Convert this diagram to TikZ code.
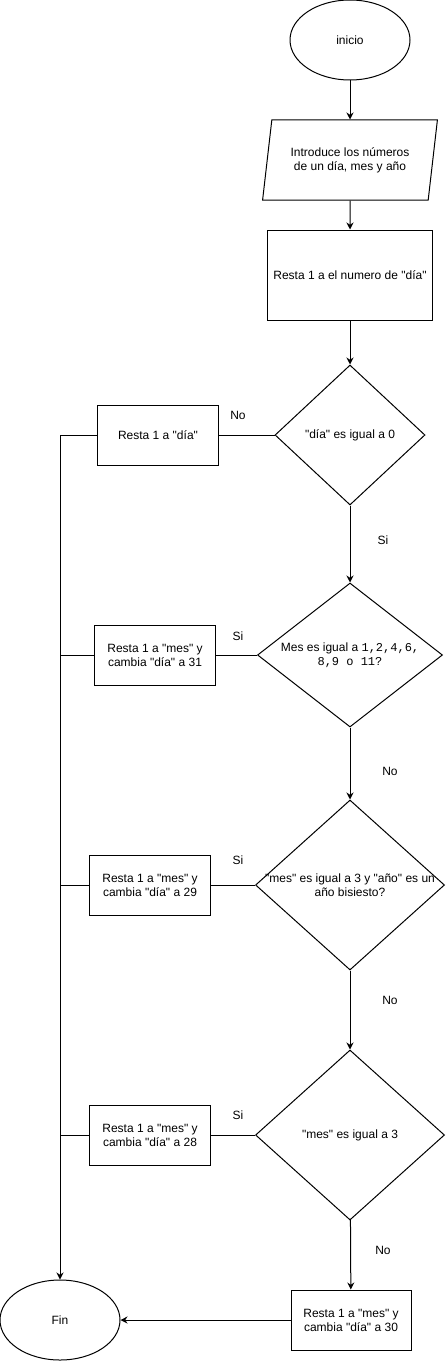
\documentclass[tikz,border=0pt]{standalone}
\usepackage{fontspec}
\setmainfont{Liberation Sans}[Ligatures=TeXOff]
\newfontfamily\monofont{Liberation Mono}
\usetikzlibrary{shapes.geometric,arrows.meta}
\tikzset{
terminal/.style={draw,ellipse,minimum width=120pt,minimum height=80pt},
entrada/.style={draw,trapezium,trapezium left angle=77,trapezium right angle=103,
  trapezium stretches=true,minimum width=175pt,minimum height=80pt,align=center},
proceso/.style={draw,rectangle,align=center,inner sep=0pt},
decision/.style={draw,diamond,inner sep=0pt},
flecha/.style={-{Stealth[length=7pt,width=7pt]}},
}
\begin{document}
\begin{tikzpicture}[x=1pt,y=-1pt,line width=1pt,font=\fontsize{12}{14}\selectfont]
\useasboundingbox (0,0) rectangle (447,1362);
\node[terminal] (inicio) at (350,40) {inicio};
\node[entrada] (datos) at (350,160) {Introduce los números\\ de un día, mes y año};
\node[proceso,minimum width=165pt,minimum height=90pt] (resta) at (350,275) {Resta 1 a el numero de "día"};
% decisiones
\node[decision,minimum width=150pt,minimum height=140pt,label={center:"día" es igual a 0}] (d1) at (350,435) {};
\node[decision,minimum width=185pt,minimum height=144pt,
  label={[align=center]center:Mes es igual a {\monofont 1,2,4,6,}\\{\monofont 8,9 o 11?}}] (d2) at (350,655) {};
\node[decision,minimum width=189pt,minimum height=170pt,
  label={[align=center]center:"mes" es igual a 3 y "año" es un\\año bisiesto?}] (d3) at (350,885) {};
\node[decision,minimum width=189pt,minimum height=170pt,label={center:"mes" es igual a 3}] (d4) at (350,1135) {};
% cajas de la izquierda
\node[proceso,minimum width=121pt,minimum height=60pt] (r1) at (158,435) {Resta 1 a "día"};
\node[proceso,minimum width=121pt,minimum height=60pt] (r2) at (155,655) {Resta 1 a "mes" y\\cambia "día" a 31};
\node[proceso,minimum width=121pt,minimum height=60pt] (r3) at (150,885) {Resta 1 a "mes" y\\cambia "día" a 29};
\node[proceso,minimum width=121pt,minimum height=60pt] (r4) at (150,1135) {Resta 1 a "mes" y\\cambia "día" a 28};
\node[proceso,minimum width=120pt,minimum height=60pt] (r5) at (351,1320) {Resta 1 a "mes" y\\cambia "día" a 30};
\node[terminal] (fin) at (60,1320) {Fin};
% etiquetas
\node (no1) at (238,415) {No};
\node (si1) at (383,540) {Si};
\node (si2) at (238,636) {Si};
\node (no2) at (390,771) {No};
\node (si3) at (238,860) {Si};
\node (no3) at (390,1000) {No};
\node (si4) at (238,1115) {Si};
\node (no4) at (383,1250) {No};
% conexiones
\draw[flecha] (inicio) -- (datos);
\draw[flecha] (datos) -- (resta);
\draw[flecha] (resta) -- (d1);
\draw[flecha] (d1) -- (d2);
\draw[flecha] (d2) -- (d3);
\draw[flecha] (d3) -- (d4);
\draw[flecha] (d4) -- (r5);
\draw[flecha] (r5) -- (fin);
\draw (d1) -- (r1);
\draw (d2) -- (r2);
\draw (d3) -- (r3);
\draw (d4) -- (r4);
\draw[flecha] (r1.west) -| (fin.north);
\foreach \r in {r2,r3,r4}{
\draw (\r.west) -- (\r.west -| fin.north);}
\end{tikzpicture}
\end{document}
